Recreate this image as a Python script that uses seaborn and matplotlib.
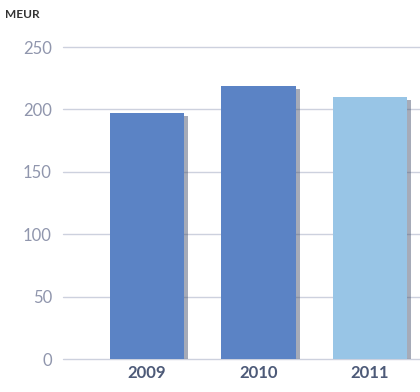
import matplotlib
matplotlib.use("Agg")
import matplotlib.pyplot as plt
import matplotlib.patheffects as pe
import seaborn as sns
import pandas as pd

# data
years = ["2009", "2010", "2011"]
values = [197, 219, 210]
colors = ["#5b83c5", "#5b83c5", "#98c5e6"]
yticks = [0, 50, 100, 150, 200, 250]

sns.set_style("white")
plt.rcParams["font.family"] = ["Lato", "DejaVu Sans"]

df = pd.DataFrame({"year": years, "value": values})

fig = plt.figure(figsize=(4.2, 3.92), dpi=100)
ax = fig.add_axes([0.15, 0.084, 0.85, 0.796])

sns.barplot(data=df, x="year", y="value", hue="year", palette=colors,
            legend=False, width=0.67, saturation=1, ax=ax, zorder=3)

for bar in ax.patches:
    bar.set_linewidth(0)
    bar.set_path_effects([pe.SimplePatchShadow(offset=(3, -2), shadow_rgbFace="#3a4663", alpha=0.45),
                          pe.Normal()])

ax.set_xlim(-0.753, 2.45)
ax.set_ylim(0, 250)
ax.set_yticks(yticks)
ax.set_yticklabels([str(t) for t in yticks])
for t in yticks:
    ax.axhline(t, color="#cdd1de", lw=1, zorder=1, clip_on=False)

for s in ax.spines.values():
    s.set_visible(False)
ax.tick_params(axis="both", length=0)
ax.tick_params(axis="y", pad=8, labelsize=12, labelcolor="#9096ad")
ax.tick_params(axis="x", pad=4, labelsize=12, labelcolor="#4d5a78")
for lbl in ax.get_xticklabels():
    lbl.set_fontweight("bold")
ax.set_xlabel("")
ax.set_ylabel("")

fig.text(0.012, 0.962, "MEUR", fontsize=8.5, fontweight="bold", color="#333333", va="center")

fig.savefig("out.png", dpi=100)
